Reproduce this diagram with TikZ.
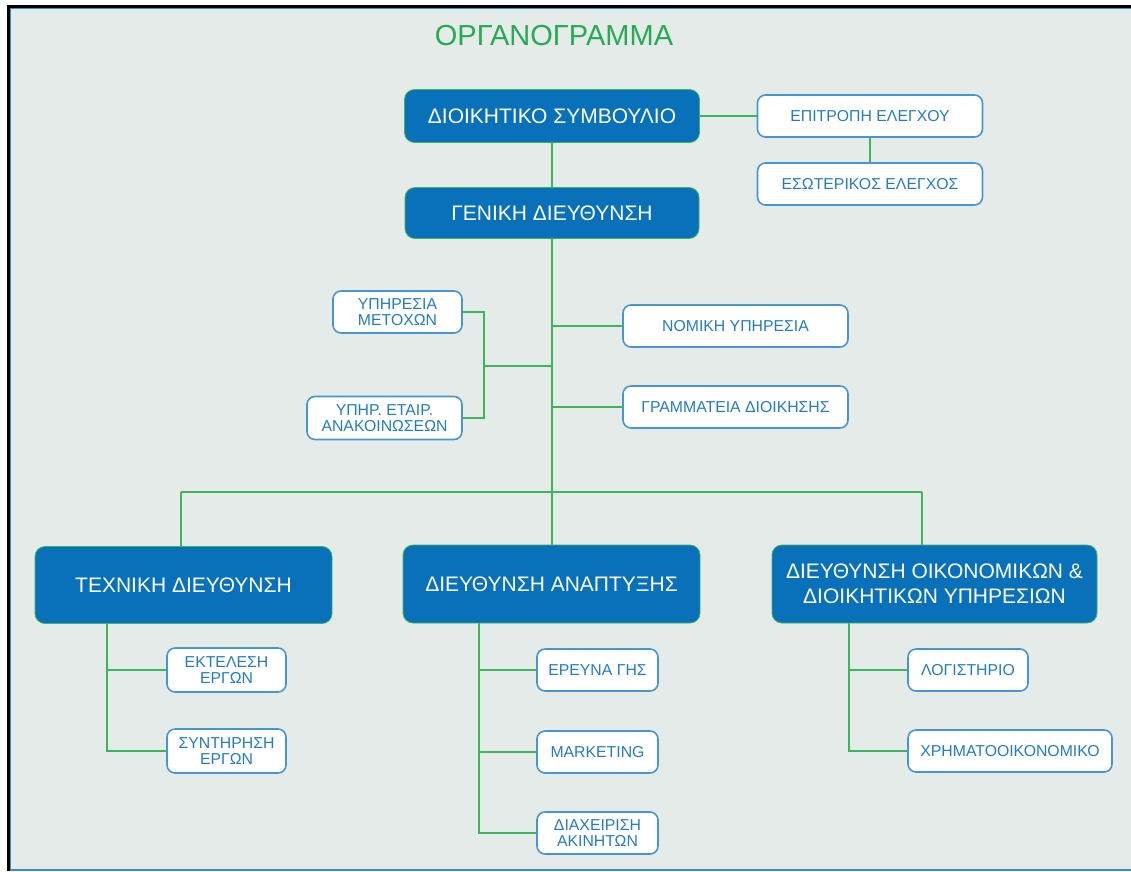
\documentclass[tikz,border=0pt]{standalone}
\usepackage{fontspec}
\setmainfont{Liberation Sans}
\definecolor{orgbg}{RGB}{229,235,232}
\definecolor{orgblue}{RGB}{8,113,186}
\definecolor{orgline}{RGB}{62,180,92}
\definecolor{orgtitle}{RGB}{40,170,84}
\definecolor{orgedge}{RGB}{70,150,210}
\definecolor{orgtext}{RGB}{35,125,195}
\definecolor{orgframe}{RGB}{60,140,200}
\begin{document}
\begin{tikzpicture}[x=1pt,y=-1pt,
    bigbox/.style={draw=orgline,line width=0.8pt,fill=orgblue,text=white,
      rounded corners=10pt,inner sep=0pt,align=center,
      font=\fontsize{21}{25}\selectfont},
    smallbox/.style={draw=orgedge,line width=1.6pt,fill=white,text=orgtext,
      rounded corners=8pt,inner sep=0pt,align=center,
      font=\fontsize{15.8}{16.5}\selectfont,minimum height=42pt},
    link/.style={draw=orgline,line width=2.7pt}]
  \useasboundingbox (0,0) rectangle (1131,871);
  \fill[white] (0,0) rectangle (1131,871);
  \fill[black] (7,5) rectangle (1131,871);
  \fill[orgbg] (10,8) rectangle (1131,871);
  \draw[orgframe,line width=1.2pt] (10.5,871) -- (10.5,8.5) -- (1131,8.5);
  \draw[orgframe,line width=2pt] (10,870) -- (1131,870);

  \node[text=orgtitle,font=\fontsize{29}{32}\selectfont] (title) at (554,36) {ΟΡΓΑΝΟΓΡΑΜΜΑ};

  % top level
  \node[bigbox,minimum width=295pt,minimum height=53pt] (ds) at (552,116) {ΔΙΟΙΚΗΤΙΚΟ ΣΥΜΒΟΥΛΙΟ};
  \node[bigbox,minimum width=294pt,minimum height=51pt] (gd) at (552,213) {ΓΕΝΙΚΗ ΔΙΕΥΘΥΝΣΗ};
  \node[smallbox,minimum width=225pt] (ep) at (870,116) {ΕΠΙΤΡΟΠΗ ΕΛΕΓΧΟΥ};
  \node[smallbox,minimum width=225pt] (es) at (870,184) {ΕΣΩΤΕΡΙΚΟΣ ΕΛΕΓΧΟΣ};

  % staff services
  \node[smallbox,minimum width=129pt] (ym) at (397.5,312) {ΥΠΗΡΕΣΙΑ\\ΜΕΤΟΧΩΝ};
  \node[smallbox,minimum width=155pt,minimum height=43pt] (yea) at (384.5,418) {ΥΠΗΡ. ΕΤΑΙΡ.\\ΑΝΑΚΟΙΝΩΣΕΩΝ};
  \node[smallbox,minimum width=225pt] (nom) at (735.5,326) {ΝΟΜΙΚΗ ΥΠΗΡΕΣΙΑ};
  \node[smallbox,minimum width=225pt] (gram) at (735.5,407) {ΓΡΑΜΜΑΤΕΙΑ ΔΙΟΙΚΗΣΗΣ};

  % divisions
  \node[bigbox,minimum width=297pt,minimum height=77pt] (tech) at (183.5,585) {ΤΕΧΝΙΚΗ ΔΙΕΥΘΥΝΣΗ};
  \node[bigbox,minimum width=297pt,minimum height=78pt] (anap) at (551.5,584) {ΔΙΕΥΘΥΝΣΗ ΑΝΑΠΤΥΞΗΣ};
  \node[bigbox,minimum width=325pt,minimum height=78pt] (oik) at (934.5,584) {ΔΙΕΥΘΥΝΣΗ ΟΙΚΟΝΟΜΙΚΩΝ \&\\ΔΙΟΙΚΗΤΙΚΩΝ ΥΠΗΡΕΣΙΩΝ};

  % departments
  \node[smallbox,minimum width=119pt,minimum height=44pt] (ekt) at (226.5,670) {ΕΚΤΕΛΕΣΗ\\ΕΡΓΩΝ};
  \node[smallbox,minimum width=119pt,minimum height=44pt] (synt) at (226.5,751) {ΣΥΝΤΗΡΗΣΗ\\ΕΡΓΩΝ};
  \node[smallbox,minimum width=121pt] (ere) at (597.5,670) {ΕΡΕΥΝΑ ΓΗΣ};
  \node[smallbox,minimum width=121pt] (mkt) at (597.5,752) {MARKETING};
  \node[smallbox,minimum width=121pt] (diax) at (597.5,833) {ΔΙΑΧΕΙΡΙΣΗ\\ΑΚΙΝΗΤΩΝ};
  \node[smallbox,minimum width=120pt] (logi) at (968,670) {ΛΟΓΙΣΤΗΡΙΟ};
  \node[smallbox,minimum width=204pt] (xrim) at (1010,751) {ΧΡΗΜΑΤΟΟΙΚΟΝΟΜΙΚΟ};

  \coordinate (brk) at (484,366);
  \coordinate (busL) at (181,492);
  \coordinate (busM) at (552,492);
  \coordinate (busR) at (922,492);
  \coordinate (techL) at (107,623.5);
  \coordinate (anapL) at (479,623);
  \coordinate (oikL) at (849,623);

  \begin{scope}[link]
    \draw (ds) -- (gd);
    \draw (ds) -- (ep);
    \draw (ep) -- (es);
    \draw (gd.south) -- (busM);
    \draw (ym.east) -| (brk) |- (yea.east);
    \draw (brk) -- (brk -| gd.south);
    \draw (nom.west) -- (nom.west -| gd.south);
    \draw (gram.west) -- (gram.west -| gd.south);
    \draw (busL) -- (busR);
    \draw (busL) -- (busL |- tech.north);
    \draw (busM) -- (busM |- anap.north);
    \draw (busR) -- (busR |- oik.north);
    \draw (techL) |- (ekt.west);
    \draw (techL) |- (synt.west);
    \draw (anapL) |- (ere.west);
    \draw (anapL) |- (mkt.west);
    \draw (anapL) |- (diax.west);
    \draw (oikL) |- (logi.west);
    \draw (oikL) |- (xrim.west);
  \end{scope}
\end{tikzpicture}
\end{document}
